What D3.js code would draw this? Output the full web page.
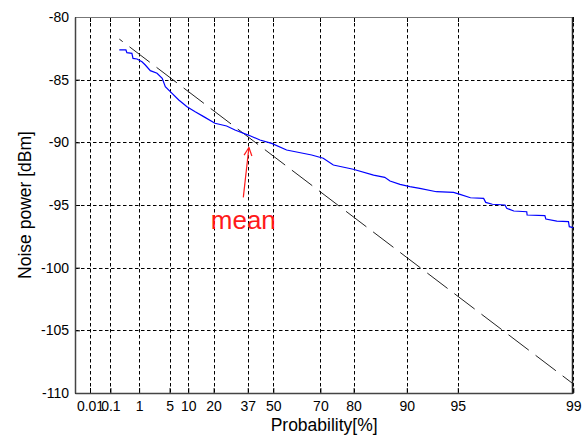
<!DOCTYPE html>
<html><head><meta charset="utf-8">
<script src="https://cdn.jsdelivr.net/npm/d3@7"></script>
<style>body{margin:0;background:#fff}svg{display:block}</style>
</head><body><svg id="c" width="585" height="436"></svg>
<script>
// ---- data ----
const xTicks = [0.01, 0.1, 1, 5, 10, 20, 37, 50, 70, 80, 90, 95, 99];
const xTickLabels = ["0.01", "0.1", "1", "5", "10", "20", "37", "50", "70", "80", "90", "95", "99"];
const yTicks = [-110, -105, -100, -95, -90, -85, -80];
const xDomainProb = [0.00114, 99];
const yDomain = [-110, -80];

const measuredProb = [0.226, 0.39, 0.42, 0.61, 0.66, 0.87, 1.2, 1.47, 1.96, 2.8, 3.6, 4.15, 5.15, 7.2, 9.6, 12.4, 15.7, 20.6, 26.2, 30.4, 37.3, 43.3, 49.2, 56.3, 66.8, 71.0, 74.3, 79.9, 84.5, 86.6, 87.5, 89.05, 90.4, 91.6, 93.3, 94.7, 95.15, 95.8, 96.5, 96.6, 96.9, 97.4, 97.46, 97.7, 98.08, 98.09, 98.51, 98.53, 98.74, 98.93, 98.942, 99];
const measuredPower = [-82.63, -82.63, -82.85, -82.90, -83.30, -83.35, -83.57, -83.83, -84.28, -84.49, -84.89, -85.56, -85.96, -86.62, -87.16, -87.56, -87.95, -88.48, -88.70, -89.02, -89.42, -89.81, -90.08, -90.61, -91.01, -91.27, -91.81, -92.15, -92.61, -92.79, -93.09, -93.35, -93.54, -93.67, -93.94, -93.99, -94.15, -94.42, -94.47, -94.79, -94.94, -95.00, -95.26, -95.48, -95.54, -95.80, -95.85, -96.12, -96.28, -96.33, -96.73, -96.81];

const theoryProb = [0.226, 99];
const theoryPower = [-81.76, -109.28];

const annotationText = "mean";
const arrowFrom = [34.7, -94.39];
const arrowTo = [37.6, -90.41];
const textAt = [34.7, -96.9];

// ---- layout ----
const W = 585, H = 436;
const m = {left: 75, right: 11.7, top: 17, bottom: 43};
const svg = d3.select("#c");
const iw = W - m.left - m.right, ih = H - m.top - m.bottom;

// Gumbel-type probability transform
const g = p => -Math.log(-Math.log(p / 100));
const lin = d3.scaleLinear().domain(xDomainProb.map(g)).range([m.left, W - m.right]);
const x = p => lin(g(p));
const y = d3.scaleLinear().domain(yDomain).range([H - m.bottom, m.top]);

const font = "'Liberation Sans', Arial, sans-serif";

// grid
const grid = svg.append("g").attr("stroke", "#000").attr("stroke-width", 1).attr("stroke-dasharray", "3.5,2.5").attr("fill", "none");
xTicks.forEach(t => {
  const px = Math.round(x(t)) + 0.5;
  grid.append("line").attr("x1", px).attr("x2", px).attr("y1", m.top).attr("y2", H - m.bottom);
});
yTicks.forEach(t => {
  const py = Math.round(y(t)) + 0.5;
  grid.append("line").attr("x1", m.left).attr("x2", W - m.right).attr("y1", py).attr("y2", py);
});

// axes via d3 axis
const xAxis = d3.axisBottom(lin).tickValues(xTicks.map(g)).tickFormat((d, i) => xTickLabels[i]).tickSize(-5).tickPadding(10);
const yAxis = d3.axisLeft(y).tickValues(yTicks).tickFormat(d => String(d)).tickSize(-5).tickPadding(10);

const gx = svg.append("g").attr("transform", `translate(0,${H - m.bottom})`).call(xAxis);
const gy = svg.append("g").attr("transform", `translate(${m.left},0)`).call(yAxis);
[gx, gy].forEach(a => {
  a.select(".domain").remove();
  a.selectAll("line").attr("stroke", "#000");
  a.selectAll("text").attr("font-family", font).attr("font-size", 14).attr("fill", "#000");
});
gx.selectAll("text").attr("dy", "0.71em").attr("y", 8);
gy.selectAll("text").attr("x", -6);

// top/right ticks
const ticksTR = svg.append("g").attr("stroke", "#000");
xTicks.forEach(t => {
  const px = Math.round(x(t)) + 0.5;
  ticksTR.append("line").attr("x1", px).attr("x2", px).attr("y1", m.top).attr("y2", m.top + 5);
});
yTicks.forEach(t => {
  const py = Math.round(y(t)) + 0.5;
  ticksTR.append("line").attr("x1", W - m.right - 5).attr("x2", W - m.right).attr("y1", py).attr("y2", py);
});

// box
const x0 = m.left + 0.5, x1 = Math.round(W - m.right) - 0.5, y0 = m.top + 0.5, y1 = H - m.bottom + 0.5;
svg.append("line").attr("x1", x0).attr("x2", x1).attr("y1", y0).attr("y2", y0).attr("stroke", "#777").attr("stroke-width", 1);
svg.append("line").attr("x1", x1).attr("x2", x1).attr("y1", y0).attr("y2", y1).attr("stroke", "#222").attr("stroke-width", 1.5);
svg.append("line").attr("x1", x0).attr("x2", x0).attr("y1", y0).attr("y2", y1).attr("stroke", "#444").attr("stroke-width", 1.5);
svg.append("line").attr("x1", x0).attr("x2", x1).attr("y1", y1).attr("y2", y1).attr("stroke", "#444").attr("stroke-width", 1.5);

// theory dashed line
const theory = theoryProb.map((p, i) => [p, theoryPower[i]]);
svg.append("path").datum(theory)
  .attr("d", d3.line().x(d => x(d[0])).y(d => y(d[1])))
  .attr("fill", "none").attr("stroke", "#222").attr("stroke-width", 1)
  .attr("stroke-dasharray", "25.5,8.5").attr("stroke-dashoffset", 21.2);

// measured curve
const meas = measuredProb.map((p, i) => [p, measuredPower[i]]);
svg.append("path").datum(meas)
  .attr("d", d3.line().x(d => x(d[0])).y(d => y(d[1])))
  .attr("fill", "none").attr("stroke", "#0000ff").attr("stroke-width", 1.2);

// annotation
const red = "#ff1a1a";
const ax0 = x(arrowFrom[0]), ay0 = y(arrowFrom[1]), ax1 = x(arrowTo[0]), ay1 = y(arrowTo[1]);
svg.append("line").attr("x1", ax0).attr("y1", ay0).attr("x2", ax1).attr("y2", ay1).attr("stroke", red).attr("stroke-width", 1.2);
const ang = Math.atan2(ay1 - ay0, ax1 - ax0);
const hl = 9, hw = 0.45;
[ang + Math.PI - hw, ang + Math.PI + hw].forEach(a => {
  svg.append("line").attr("x1", ax1).attr("y1", ay1)
    .attr("x2", ax1 + hl * Math.cos(a)).attr("y2", ay1 + hl * Math.sin(a))
    .attr("stroke", red).attr("stroke-width", 1.2);
});
svg.append("text").attr("x", x(textAt[0])).attr("y", y(textAt[1]))
  .attr("text-anchor", "middle").attr("font-family", font).attr("font-size", 26)
  .attr("fill", red).text(annotationText);

// axis titles
svg.append("text").attr("x", (m.left + W - m.right) / 2).attr("y", 431)
  .attr("text-anchor", "middle").attr("font-family", font).attr("font-size", 17.5).attr("fill", "#000")
  .text("Probability[%]");
svg.append("text").attr("transform", `translate(30.5,${(m.top + H - m.bottom) / 2}) rotate(-90)`)
  .attr("text-anchor", "middle").attr("font-family", font).attr("font-size", 17.5).attr("fill", "#000")
  .text("Noise power [dBm]");
</script></body></html>
